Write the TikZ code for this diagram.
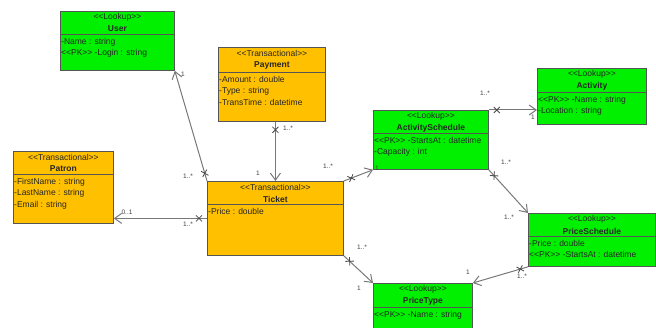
\documentclass[tikz,border=0pt]{standalone}
\usepackage{fontspec}
\setmainfont{Liberation Sans}[Ligatures=TeXOff]
\usetikzlibrary{arrows.meta,decorations.markings}

\definecolor{lookupgreen}{RGB}{0,240,0}
\definecolor{transorange}{RGB}{255,192,0}
\definecolor{edgegray}{RGB}{120,120,120}
\definecolor{boxgray}{RGB}{85,85,85}

\begin{document}
\begin{tikzpicture}
[ x=1pt, y=-1pt, font=\fontsize{8.5}{11.5}\selectfont, text=black!85
, classbox/.style={rectangle, draw=boxgray, line width=0.8pt, anchor=north west, inner sep=0pt}
, lookup/.style={classbox, fill=lookupgreen}
, transactional/.style={classbox, fill=transorange}
, divider/.style={draw=boxgray, line width=0.8pt}
, stereo/.style={inner sep=0pt}
, classname/.style={inner sep=0pt, font=\fontsize{8.5}{11.5}\selectfont\bfseries}
, attrs/.style={anchor=north west, inner sep=1pt, align=left}
, mult/.style={inner sep=0pt, font=\fontsize{6.5}{7}\selectfont, text=black!75}
, assoc/.style={draw=edgegray, line width=1pt, -{Straight Barb[length=7pt, width=10pt]},
    postaction={decorate, decoration={markings, mark=at position 8pt with
      {\draw[-, edgegray!60!black, line width=0.8pt] (-3pt,-3pt) -- (3pt,3pt) (-3pt,3pt) -- (3pt,-3pt);}}}}
]
\useasboundingbox (0,0) rectangle (656,328);

% User:
\node (User) [lookup, minimum width=114pt, minimum height=59pt] at (60,11) {};
\draw [divider] ([yshift=-23pt]User.north west) -- ([yshift=-23pt]User.north east);
\node (UserSt) [stereo] at ([yshift=-6pt]User.north) {<<Lookup>>};
\node (UserName) [classname] at ([yshift=-18pt]User.north) {User};
\node (UserAttr) [attrs] at ([yshift=-26pt]User.north west) {-Name : string\\<<PK>> -Login : string};

% Payment:
\node (Payment) [transactional, minimum width=107pt, minimum height=74pt] at (218,47) {};
\draw [divider] ([yshift=-25pt]Payment.north west) -- ([yshift=-25pt]Payment.north east);
\node (PaymentSt) [stereo] at ([yshift=-6pt]Payment.north) {<<Transactional>>};
\node (PaymentName) [classname] at ([yshift=-18pt]Payment.north) {Payment};
\node (PaymentAttr) [attrs] at ([yshift=-28pt]Payment.north west) {-Amount : double\\-Type : string\\-TransTime : datetime};

% Patron:
\node (Patron) [transactional, minimum width=100pt, minimum height=72pt] at (13,151) {};
\draw [divider] ([yshift=-23pt]Patron.north west) -- ([yshift=-23pt]Patron.north east);
\node (PatronSt) [stereo] at ([yshift=-6pt]Patron.north) {<<Transactional>>};
\node (PatronName) [classname] at ([yshift=-18pt]Patron.north) {Patron};
\node (PatronAttr) [attrs] at ([yshift=-26pt]Patron.north west) {-FirstName : string\\-LastName : string\\-Email : string};

% Ticket:
\node (Ticket) [transactional, minimum width=136pt, minimum height=74pt] at (207,181) {};
\draw [divider] ([yshift=-23pt]Ticket.north west) -- ([yshift=-23pt]Ticket.north east);
\node (TicketSt) [stereo] at ([yshift=-6pt]Ticket.north) {<<Transactional>>};
\node (TicketName) [classname] at ([yshift=-18pt]Ticket.north) {Ticket};
\node (TicketAttr) [attrs] at ([yshift=-26pt]Ticket.north west) {-Price : double};

% ActivitySchedule:
\node (ActSched) [lookup, minimum width=115pt, minimum height=59pt] at (373,110) {};
\draw [divider] ([yshift=-23pt]ActSched.north west) -- ([yshift=-23pt]ActSched.north east);
\node (ActSchedSt) [stereo] at ([yshift=-6pt]ActSched.north) {<<Lookup>>};
\node (ActSchedName) [classname] at ([yshift=-18pt]ActSched.north) {ActivitySchedule};
\node (ActSchedAttr) [attrs] at ([yshift=-26pt]ActSched.north west) {<<PK>> -StartsAt : datetime\\-Capacity : int};

% Activity:
\node (Activity) [lookup, minimum width=109pt, minimum height=56pt] at (537,68) {};
\draw [divider] ([yshift=-24pt]Activity.north west) -- ([yshift=-24pt]Activity.north east);
\node (ActivitySt) [stereo] at ([yshift=-6pt]Activity.north) {<<Lookup>>};
\node (ActivityName) [classname] at ([yshift=-18pt]Activity.north) {Activity};
\node (ActivityAttr) [attrs] at ([yshift=-27pt]Activity.north west) {<<PK>> -Name : string\\-Location : string};

% PriceSchedule:
\node (PriceSched) [lookup, minimum width=127pt, minimum height=53pt] at (528,213) {};
\draw [divider] ([yshift=-23pt]PriceSched.north west) -- ([yshift=-23pt]PriceSched.north east);
\node (PriceSchedSt) [stereo] at ([yshift=-6pt]PriceSched.north) {<<Lookup>>};
\node (PriceSchedName) [classname] at ([yshift=-18pt]PriceSched.north) {PriceSchedule};
\node (PriceSchedAttr) [attrs] at ([yshift=-26pt]PriceSched.north west) {-Price : double\\<<PK>> -StartsAt : datetime};

% PriceType:
\node (PriceType) [lookup, minimum width=99pt, minimum height=50pt] at (373,283) {};
\draw [divider] ([yshift=-24pt]PriceType.north west) -- ([yshift=-24pt]PriceType.north east);
\node (PriceTypeSt) [stereo] at ([yshift=-6pt]PriceType.north) {<<Lookup>>};
\node (PriceTypeName) [classname] at ([yshift=-18pt]PriceType.north) {PriceType};
\node (PriceTypeAttr) [attrs] at ([yshift=-27pt]PriceType.north west) {<<PK>> -Name : string};

% Associations:
\draw [assoc] (Ticket.north west) -- (User.south east);
\draw [assoc] (Ticket.north |- Payment.south) -- (Ticket.north);
\draw [assoc] (Ticket.west) -- (Ticket.west -| Patron.east);
\draw [assoc] (Ticket.north east) -- (ActSched.south west);
\draw [assoc] (ActSched.north east) -- (ActSched.north east -| Activity.west);
\draw [assoc] (ActSched.south east) -- (PriceSched.north west);
\draw [assoc] (PriceSched.south west) -- (PriceType.north east);
\draw [assoc] (Ticket.south east) -- (PriceType.north west);

% Multiplicities:
\node (m1) [mult] at (183,74) {1};
\node (m2) [mult] at (188,176) {1..*};
\node (m3) [mult] at (288,128) {1..*};
\node (m4) [mult] at (258,173) {1};
\node (m5) [mult] at (127,212) {0..1};
\node (m6) [mult] at (188,224) {1..*};
\node (m7) [mult] at (328,166) {1..*};
\node (m8) [mult] at (377,168) {1};
\node (m9) [mult] at (485,93) {1..*};
\node (m10) [mult] at (533,117) {1};
\node (m11) [mult] at (506,162) {1..*};
\node (m12) [mult] at (509,217) {1..*};
\node (m13) [mult] at (362,247) {1..*};
\node (m14) [mult] at (359,288) {1};
\node (m15) [mult] at (468,272) {1};
\node (m16) [mult] at (522,276) {1..*};
\end{tikzpicture}
\end{document}
